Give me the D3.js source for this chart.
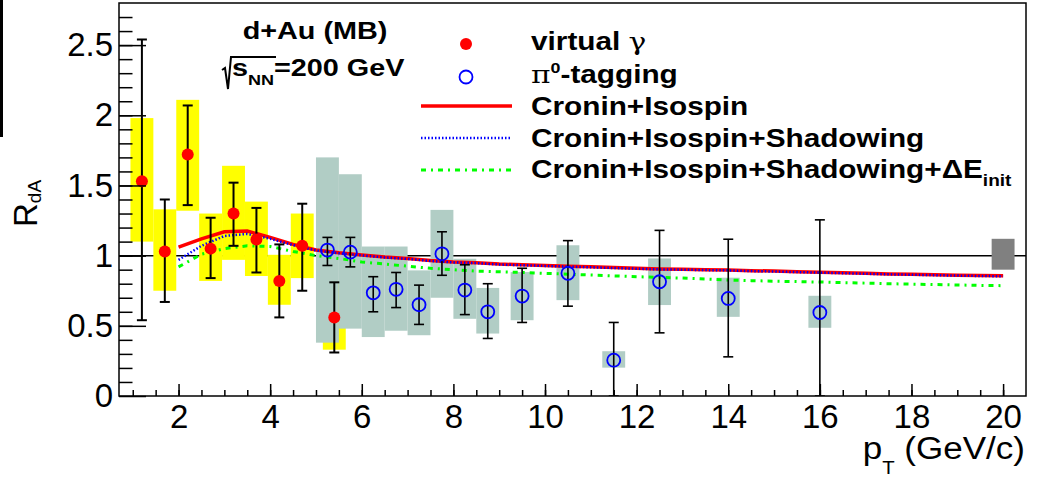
<!DOCTYPE html>
<html>
<head>
<meta charset="utf-8">
<script src="https://cdn.jsdelivr.net/npm/d3@7"></script>
<style>
  body { margin: 0; background: #fff; }
  text { font-family: "Liberation Sans", Arial, Helvetica, sans-serif; fill: #000; }
</style>
</head>
<body>
<div class="container"></div>
<script>
// virtual gamma (red dots, yellow syst. boxes)
var vgX = [1.2, 1.7, 2.2, 2.7, 3.2, 3.7, 4.2, 4.7, 5.4];
var vgY = [1.53, 1.03, 1.72, 1.05, 1.30, 1.115, 0.82, 1.07, 0.56];
var vgErrHi = [2.54, 1.40, 2.07, 1.27, 1.52, 1.34, 1.08, 1.37, 0.81];
var vgErrLo = [0.54, 0.67, 1.36, 0.84, 1.07, 0.88, 0.56, 0.75, 0.31];
var vgSysHi = [1.98, 1.33, 2.11, 1.30, 1.64, 1.385, 1.006, 1.30, 0.80];
var vgSysLo = [1.10, 0.75, 1.32, 0.82, 0.97, 0.855, 0.65, 0.84, 0.33];

// pi0 tagging (blue open circles, grey-green syst. boxes)
var pi0X = [5.25, 5.75, 6.25, 6.75, 7.25, 7.75, 8.25, 8.75, 9.5, 10.5, 11.5, 12.5, 14, 16];
var pi0Y = [1.04, 1.025, 0.735, 0.76, 0.65, 1.013, 0.755, 0.60, 0.712, 0.874, 0.255, 0.814, 0.695, 0.595];
var pi0ErrHi = [1.13, 1.13, 0.85, 0.88, 0.79, 1.17, 0.935, 0.80, 0.91, 1.107, 0.524, 1.18, 1.117, 1.255];
var pi0ErrLo = [0.93, 0.92, 0.60, 0.63, 0.51, 0.86, 0.58, 0.41, 0.524, 0.64, 0, 0.45, 0.279, 0];
var pi0SysHi = [1.70, 1.58, 1.065, 1.065, 0.895, 1.326, 0.978, 0.77, 0.883, 1.074, 0.319, 0.98, 0.843, 0.714];
var pi0SysLo = [0.38, 0.48, 0.42, 0.465, 0.433, 0.70, 0.55, 0.445, 0.54, 0.683, 0.202, 0.648, 0.564, 0.486];
var boxHalf = 0.25;

// global normalisation box at pT = 20
var normX = 20, normLo = 0.90, normHi = 1.12;

// model curves
var modelX = [2, 2.5, 3, 3.5, 4, 4.5, 5, 5.5, 6, 6.5, 7, 7.5, 8, 8.5, 9, 9.5, 10, 10.5, 11, 11.5,
              12, 12.5, 13, 13.5, 14, 14.5, 15, 15.5, 16, 16.5, 17, 17.5, 18, 18.5, 19, 19.5, 20];
var croninIso = [1.06, 1.12, 1.17, 1.175, 1.13, 1.08, 1.04, 1.02, 1.005, 0.99, 0.98, 0.965, 0.955, 0.95, 0.94, 0.935, 0.93, 0.925, 0.92, 0.915,
                 0.91, 0.905, 0.903, 0.90, 0.898, 0.893, 0.89, 0.886, 0.882, 0.878, 0.874, 0.87, 0.867, 0.864, 0.861, 0.858, 0.856];
var croninShadow = [0.97, 1.07, 1.14, 1.155, 1.12, 1.075, 1.037, 1.017, 1.002, 0.987, 0.977, 0.962, 0.952, 0.947, 0.937, 0.932, 0.927, 0.922, 0.917, 0.912,
                    0.907, 0.902, 0.90, 0.897, 0.895, 0.89, 0.887, 0.883, 0.879, 0.875, 0.871, 0.867, 0.864, 0.861, 0.858, 0.855, 0.853];
var croninShadowEloss = [0.92, 1.01, 1.05, 1.07, 1.065, 1.03, 1.0, 0.98, 0.955, 0.94, 0.925, 0.91, 0.90, 0.89, 0.885, 0.88, 0.874, 0.868, 0.862, 0.856,
                         0.85, 0.845, 0.84, 0.833, 0.826, 0.822, 0.818, 0.815, 0.812, 0.808, 0.804, 0.80, 0.797, 0.794, 0.791, 0.788, 0.786];

var xMajor = [2, 4, 6, 8, 10, 12, 14, 16, 18, 20];
var yMajor = [0, 0.5, 1, 1.5, 2, 2.5];

var W = 1038, H = 477;
var svg = d3.select(".container").append("svg")
  .attr("width", W)
  .attr("height", H);

var x = d3.scaleLinear().domain([0.7, 20.5]).range([119, 1026]);
var y = d3.scaleLinear().domain([0, 2.8]).range([396, 3]);

svg.append("defs").append("clipPath").attr("id", "frameClip")
  .append("rect")
  .attr("x", x(0.7)).attr("y", y(2.8))
  .attr("width", x(20.5) - x(0.7)).attr("height", y(0) - y(2.8));

// stray black bar at the left image edge
svg.append("rect").attr("x", 0).attr("y", 0).attr("width", 3).attr("height", 137).attr("fill", "#000");

var plot = svg.append("g").attr("clip-path", "url(#frameClip)");

// reference line at 1
plot.append("line")
  .attr("x1", x(0.7)).attr("x2", x(20.5))
  .attr("y1", y(1)).attr("y2", y(1))
  .attr("stroke", "#000").attr("stroke-width", 1.5);

// systematic boxes
plot.selectAll(".vgBox").data(vgX).join("rect")
  .attr("x", d => x(d - boxHalf))
  .attr("width", d => x(d + boxHalf) - x(d - boxHalf))
  .attr("y", (d, i) => y(vgSysHi[i]))
  .attr("height", (d, i) => y(vgSysLo[i]) - y(vgSysHi[i]))
  .attr("fill", "#ffff00");

plot.selectAll(".piBox").data(pi0X).join("rect")
  .attr("x", d => x(d - boxHalf))
  .attr("width", d => x(d + boxHalf) - x(d - boxHalf))
  .attr("y", (d, i) => y(pi0SysHi[i]))
  .attr("height", (d, i) => y(pi0SysLo[i]) - y(pi0SysHi[i]))
  .attr("fill", "#b1cdc5");

plot.append("rect")
  .attr("x", x(normX - boxHalf)).attr("width", x(normX + boxHalf) - x(normX - boxHalf))
  .attr("y", y(normHi)).attr("height", y(normLo) - y(normHi))
  .attr("fill", "#808080");

// model curves
function modelLine(vals) {
  return d3.line().x((d, i) => x(modelX[i])).y(d => y(d))(vals);
}
plot.append("path").attr("d", modelLine(croninIso))
  .attr("fill", "none").attr("stroke", "#ff0000").attr("stroke-width", 3.5);
plot.append("path").attr("d", modelLine(croninShadow))
  .attr("fill", "none").attr("stroke", "#0000ff").attr("stroke-width", 2.5)
  .attr("stroke-dasharray", "1.5,2");
plot.append("path").attr("d", modelLine(croninShadowEloss))
  .attr("fill", "none").attr("stroke", "#00ff00").attr("stroke-width", 3)
  .attr("stroke-dasharray", "5,5,2,5");

// error bars
function errBars(xs, lo, hi, w) {
  var g = plot.append("g").attr("stroke", "#000").attr("stroke-width", w);
  g.selectAll(".v").data(xs).join("line")
    .attr("x1", d => x(d)).attr("x2", d => x(d))
    .attr("y1", (d, i) => y(lo[i])).attr("y2", (d, i) => y(hi[i]));
  g.selectAll(".t").data(xs).join("line")
    .attr("x1", d => x(d) - 5).attr("x2", d => x(d) + 5)
    .attr("y1", (d, i) => y(hi[i])).attr("y2", (d, i) => y(hi[i]));
  g.selectAll(".b").data(xs).join("line")
    .attr("x1", d => x(d) - 5).attr("x2", d => x(d) + 5)
    .attr("y1", (d, i) => y(lo[i])).attr("y2", (d, i) => y(lo[i]));
}
errBars(vgX, vgErrLo, vgErrHi, 2);
errBars(pi0X, pi0ErrLo, pi0ErrHi, 1.6);

plot.selectAll(".vgPt").data(vgX).join("circle")
  .attr("cx", d => x(d)).attr("cy", (d, i) => y(vgY[i]))
  .attr("r", 6).attr("fill", "#ff0000");

plot.selectAll(".piPt").data(pi0X).join("circle")
  .attr("cx", d => x(d)).attr("cy", (d, i) => y(pi0Y[i]))
  .attr("r", 6.5).attr("fill", "none").attr("stroke", "#0000ff").attr("stroke-width", 1.8);

// axes
svg.append("g").attr("transform", "translate(0," + y(0) + ")")
  .call(d3.axisBottom(x).tickValues(xMajor).tickSize(-12).tickPadding(9).tickFormat(d3.format("d")));
svg.append("g").attr("transform", "translate(0," + y(0) + ")")
  .call(d3.axisBottom(x).tickValues(d3.range(1, 20.5, 0.5)).tickSize(-6).tickFormat(""));
svg.append("g").attr("transform", "translate(" + x(0.7) + ",0)")
  .call(d3.axisLeft(y).tickValues(yMajor).tickSize(-27).tickPadding(6).tickFormat(d3.format("")));
svg.append("g").attr("transform", "translate(" + x(0.7) + ",0)")
  .call(d3.axisLeft(y).tickValues(d3.range(0.1, 2.8, 0.1)).tickSize(-13.5).tickFormat(""));

svg.selectAll(".domain").remove();
svg.selectAll(".tick line").attr("stroke", "#000").attr("stroke-width", 1.5);
svg.selectAll(".tick text").attr("font-size", 33).attr("font-family", "Liberation Sans, Arial, sans-serif").attr("fill", "#000");

// frame
svg.append("rect")
  .attr("x", x(0.7)).attr("y", y(2.8))
  .attr("width", x(20.5) - x(0.7)).attr("height", y(0) - y(2.8))
  .attr("fill", "none").attr("stroke", "#000").attr("stroke-width", 1.5);

// axis titles
var yt = svg.append("text").attr("transform", "translate(37,227) rotate(-90)").attr("font-size", 33);
yt.append("tspan").text("R");
yt.append("tspan").attr("font-size", 19).attr("dy", 4).text("dA");

var xt = svg.append("g").attr("transform", "translate(1025,459) scale(1.13,1)")
  .append("text").attr("text-anchor", "end").attr("font-size", 31);
xt.append("tspan").text("p");
xt.append("tspan").attr("font-size", 18).attr("dy", 15).text("T");
xt.append("tspan").attr("dy", -15).text(" (GeV/c)");

// collision system label (ROOT's bold font is wider, so stretch horizontally)
var sx = 1.2;
svg.append("g").attr("transform", "translate(315,39) scale(" + sx + ",1)")
  .append("text").attr("text-anchor", "middle")
  .attr("font-size", 24).attr("font-weight", "bold").text("d+Au (MB)");
svg.append("path").attr("d", "M222,70 L225,68 L228,89 L231,57 L276,57")
  .attr("fill", "none").attr("stroke", "#000").attr("stroke-width", 2);
var st = svg.append("g").attr("transform", "translate(232,76) scale(" + sx + ",1)")
  .append("text").attr("font-size", 24).attr("font-weight", "bold");
st.append("tspan").text("s");
st.append("tspan").attr("font-size", 15).attr("dy", 9).text("NN");
st.append("tspan").attr("dy", -9).text("=200 GeV");

// legend
svg.append("circle").attr("cx", 466).attr("cy", 44).attr("r", 6).attr("fill", "#ff0000");
svg.append("circle").attr("cx", 466).attr("cy", 77).attr("r", 6.5).attr("fill", "none")
  .attr("stroke", "#0000ff").attr("stroke-width", 1.8);
svg.append("line").attr("x1", 421).attr("x2", 512).attr("y1", 106).attr("y2", 106)
  .attr("stroke", "#ff0000").attr("stroke-width", 3.5);
svg.append("line").attr("x1", 421).attr("x2", 512).attr("y1", 138).attr("y2", 138)
  .attr("stroke", "#0000ff").attr("stroke-width", 2.5).attr("stroke-dasharray", "1.5,2");
svg.append("line").attr("x1", 421).attr("x2", 512).attr("y1", 170).attr("y2", 170)
  .attr("stroke", "#00ff00").attr("stroke-width", 3).attr("stroke-dasharray", "5,5,2,5");

function legText(yb) {
  return svg.append("g").attr("transform", "translate(531," + yb + ") scale(1.19,1)")
    .append("text").attr("font-size", 25).attr("font-weight", "bold");
}
var l1 = legText(50);
l1.append("tspan").text("virtual ");
l1.append("tspan").attr("font-family", "DejaVu Serif, serif").attr("font-weight", "normal").text("γ");
var l2 = legText(83);
l2.append("tspan").attr("font-family", "DejaVu Serif, serif").attr("font-weight", "normal").text("π");
l2.append("tspan").attr("font-size", 15).attr("dy", -10).text("0");
l2.append("tspan").attr("dy", 10).text("-tagging");
legText(115).text("Cronin+Isospin");
legText(147).text("Cronin+Isospin+Shadowing");
var l5 = legText(178);
l5.append("tspan").text("Cronin+Isospin+Shadowing+ΔE");
l5.append("tspan").attr("font-size", 16).attr("dy", 8).text("init");
</script>
</body>
</html>
